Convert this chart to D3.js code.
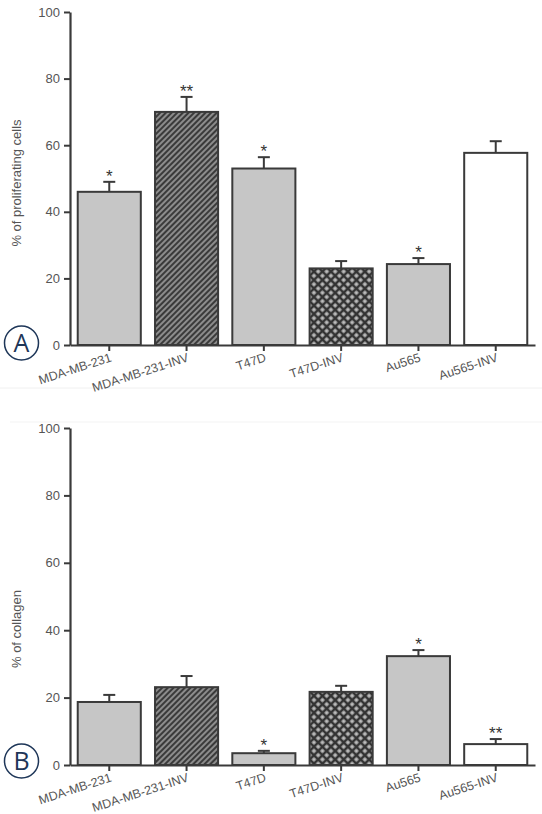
<!DOCTYPE html>
<html><head><meta charset="utf-8">
<script src="https://cdn.jsdelivr.net/npm/d3@7"></script>
<style>body{margin:0;background:#fff}svg{display:block}text{font-family:"Liberation Sans",Arial,sans-serif}</style>
</head><body>
<script>
const categories = ["MDA-MB-231","MDA-MB-231-INV","T47D","T47D-INV","Au565","Au565-INV"];
const fills = ["gray","hatch","gray","cross","gray","white"];
const yTicks = [0,20,40,60,80,100];
// Panel A: % of proliferating cells
const prolifValues = [46, 70, 53, 23, 24.3, 57.7];
const prolifErrors = [49, 74.5, 56.4, 25.2, 26.1, 61.2];
const prolifStars  = ["*","**","*","","*",""];
// Panel B: % of collagen
const collagenValues = [18.7, 23.1, 3.5, 21.7, 32.3, 6.2];
const collagenErrors = [20.8, 26.4, 4.2, 23.5, 34.1, 7.7];
const collagenStars  = ["","","*","","*","**"];

const W = 542, H = 814;
const svg = d3.select("body").append("svg").attr("width", W).attr("height", H);
const defs = svg.append("defs");
const hp = defs.append("pattern").attr("id","hatch").attr("patternUnits","userSpaceOnUse")
  .attr("width",4).attr("height",4).attr("patternTransform","rotate(45)");
hp.append("rect").attr("width",4).attr("height",4).attr("fill","#8c8c8c");
hp.append("line").attr("x1",1).attr("y1",0).attr("x2",1).attr("y2",4).attr("stroke","#3a3a3a").attr("stroke-width",2);
const cp = defs.append("pattern").attr("id","cross").attr("patternUnits","userSpaceOnUse")
  .attr("width",6).attr("height",6).attr("patternTransform","rotate(45)");
cp.append("rect").attr("width",6).attr("height",6).attr("fill","#bdbdbd");
[[0,0,6,0],[0,0,0,6],[0,6,6,6],[6,0,6,6]].forEach(c =>
  cp.append("line").attr("x1",c[0]).attr("y1",c[1]).attr("x2",c[2]).attr("y2",c[3]).attr("stroke","#333").attr("stroke-width",2.6));

const fillOf = f => f==="gray" ? "#c6c6c6" : f==="hatch" ? "url(#hatch)" : f==="cross" ? "url(#cross)" : "#fff";

// faint panel separators
svg.append("line").attr("x1",0).attr("x2",W).attr("y1",388).attr("y2",388).attr("stroke","#f0f0f0");
svg.append("line").attr("x1",10).attr("x2",W).attr("y1",422).attr("y2",422).attr("stroke","#f3f3f3");

function panel(y0, y100, values, errors, stars, title, titleY, letter, circleY){
  const x = d3.scaleBand().domain(categories).range([70,535]).paddingInner(0.184).paddingOuter(0.1);
  const y = d3.scaleLinear().domain([0,100]).range([y0,y100]);
  const cx = d => x(d) + x.bandwidth()/2;
  const g = svg.append("g");
  // letter circle
  g.append("circle").attr("cx",21.5).attr("cy",circleY).attr("r",17)
    .attr("fill","#fff").attr("stroke","#1e3658").attr("stroke-width",1.5);
  g.append("text").attr("x",21.5).attr("y",circleY+9).attr("text-anchor","middle")
    .style("font-family","'Open Sans', sans-serif").attr("font-size",25).attr("fill","#1e3658").text(letter);
  // bars
  g.selectAll("rect.bar").data(categories).join("rect")
    .attr("x", d => x(d)).attr("width", x.bandwidth())
    .attr("y", (d,i) => y(values[i])).attr("height", (d,i) => y(0)-y(values[i]))
    .attr("fill", (d,i) => fillOf(fills[i])).attr("stroke","#3a3a3a").attr("stroke-width",2);
  // error bars
  g.selectAll("line.err").data(categories).join("line")
    .attr("x1", cx).attr("x2", cx)
    .attr("y1", (d,i) => y(values[i])).attr("y2", (d,i) => y(errors[i]))
    .attr("stroke","#3a3a3a").attr("stroke-width",2);
  g.selectAll("line.cap").data(categories).join("line")
    .attr("x1", d => cx(d)-6).attr("x2", d => cx(d)+6)
    .attr("y1", (d,i) => y(errors[i])).attr("y2", (d,i) => y(errors[i]))
    .attr("stroke","#3a3a3a").attr("stroke-width",2);
  // stars
  g.selectAll("text.star").data(categories).join("text")
    .attr("x", cx).attr("y", (d,i) => y(errors[i]))
    .attr("text-anchor","middle")
    .attr("font-size",17).attr("fill","#333").text((d,i) => stars[i]);
  // y axis
  const ya = g.append("g").attr("transform","translate(70,0)")
    .call(d3.axisLeft(y).tickValues(yTicks).tickSize(6).tickPadding(4).tickSizeOuter(0));
  ya.attr("font-family",null);
  ya.select(".domain").attr("stroke","#3a3a3a").attr("stroke-width",2.2);
  ya.selectAll(".tick line").attr("stroke","#3a3a3a").attr("stroke-width",2);
  ya.selectAll(".tick text").attr("font-size",13).attr("fill","#555");
  // x axis
  const xa = g.append("g").attr("transform",`translate(0,${y0})`)
    .call(d3.axisBottom(x).tickSize(6).tickSizeOuter(0).tickFormat(""));
  xa.select(".domain").attr("stroke","#3a3a3a").attr("stroke-width",2.2);
  xa.selectAll(".tick line").attr("stroke","#3a3a3a").attr("stroke-width",2);
  // rotated category labels
  g.selectAll("text.xl").data(categories).join("text").attr("class","xl")
    .attr("transform", d => `translate(${cx(d)+3},${y0+16}) rotate(-18)`)
    .attr("text-anchor","end").attr("font-size",12.5).attr("fill","#555").text(d => d);
  // axis title
  g.append("text").attr("transform",`translate(21,${titleY}) rotate(-90)`)
    .attr("text-anchor","middle")
    .attr("font-size",13).attr("fill","#555").text(title);
}

panel(345, 12, prolifValues, prolifErrors, prolifStars, "% of proliferating cells", 183, "A", 343);
panel(765, 428, collagenValues, collagenErrors, collagenStars, "% of collagen", 629, "B", 761);
</script>
</body></html>
